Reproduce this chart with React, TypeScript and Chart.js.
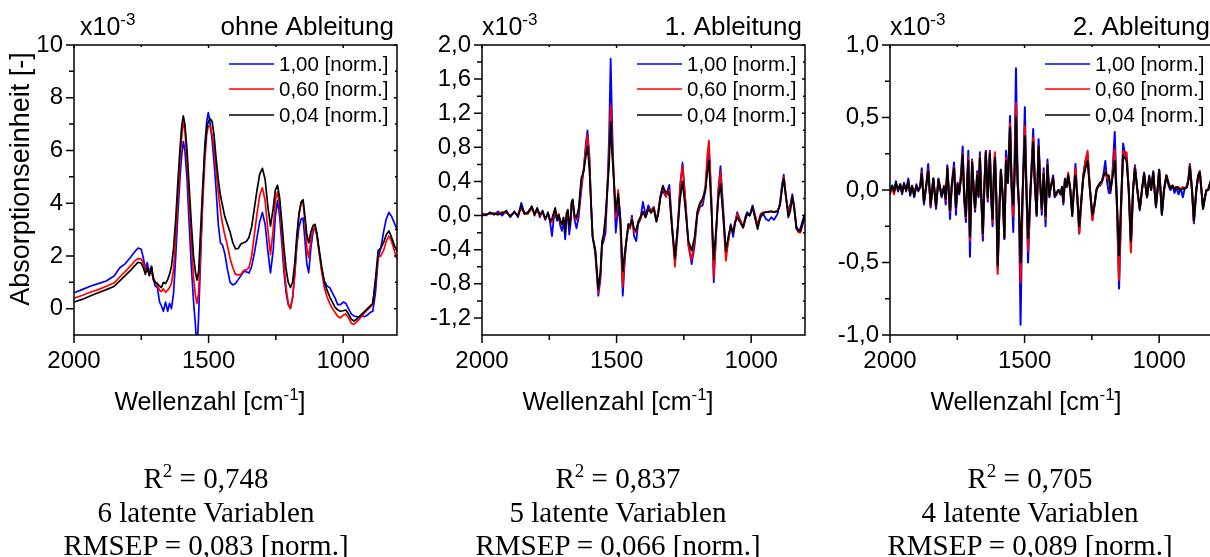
import React, { useEffect, useRef } from "react";
import { Chart, registerables } from "chart.js";

Chart.register(...registerables);

const FONT = '"Liberation Sans", Arial, sans-serif';
const SERIF = '"Liberation Serif", "Times New Roman", serif';

const seriesLabels = ["1,00 [norm.]", "0,60 [norm.]", "0,04 [norm.]"];
const seriesColors = ["#0000ff", "#ff0000", "#000000"];
const panelTitles = ["ohne Ableitung", "1. Ableitung", "2. Ableitung"];

const xTicks = [2000, 1500, 1000];
const xMinorTicks = [1750, 1250];

const yTicks1 = [0, 2, 4, 6, 8, 10];
const yTickLabels1 = ["0", "2", "4", "6", "8", "10"];
const yMinor1 = [1, 3, 5, 7, 9];
const yTicks2 = [-1.2, -0.8, -0.4, 0, 0.4, 0.8, 1.2, 1.6, 2.0];
const yTickLabels2 = ["-1,2", "-0,8", "-0,4", "0,0", "0,4", "0,8", "1,2", "1,6", "2,0"];
const yMinor2 = [-1.0, -0.6, -0.2, 0.2, 0.6, 1.0, 1.4, 1.8];
const yTicks3 = [-1, -0.5, 0, 0.5, 1];
const yTickLabels3 = ["-1,0", "-0,5", "0,0", "0,5", "1,0"];
const yMinor3 = [-0.75, -0.25, 0.25, 0.75];

const statsR2 = ["0,748", "0,837", "0,705"];
const statsLV = ["6 latente Variablen", "5 latente Variablen", "4 latente Variablen"];
const statsRMSEP = ["0,083", "0,066", "0,089"];

// ---------- Panel 1: ohne Ableitung ----------
const wn1 = [
  2000, 1970, 1940, 1910, 1880, 1850, 1830, 1810, 1790, 1775,
  1762, 1750, 1742, 1735, 1728, 1720, 1712, 1705, 1698, 1690,
  1682, 1675, 1668, 1660, 1652, 1645, 1638, 1630, 1622, 1614,
  1606, 1600, 1594, 1588, 1580, 1572, 1564, 1556, 1549, 1543,
  1537, 1530, 1522, 1514, 1507, 1501, 1494, 1487, 1480, 1472,
  1464, 1456, 1448, 1440, 1430, 1420, 1410, 1400, 1390, 1380,
  1370, 1360, 1350, 1340, 1330, 1320, 1310, 1300, 1290, 1280,
  1270, 1260, 1252, 1244, 1236, 1228, 1220, 1212, 1204, 1196,
  1188, 1180, 1172, 1164, 1156, 1149, 1142, 1135, 1128, 1120,
  1112, 1105, 1098, 1090, 1080, 1070, 1060, 1050, 1040, 1030,
  1020, 1010, 1000, 990, 980, 970, 960, 950, 940, 930,
  920, 910, 900, 890, 880, 870, 860, 850, 840, 830,
  820, 810, 800,
];
const blue1 = [
  0.60, 0.72, 0.85, 0.95, 1.05, 1.25, 1.55, 1.70, 1.95, 2.15,
  2.30, 2.25, 1.90, 1.50, 1.75, 1.30, 1.60, 1.10, 0.85, 0.80,
  0.25, 0.10, -0.10, 0.25, -0.10, 0.20, 0.00, 0.60, 2.00, 3.60,
  5.00, 5.80, 6.34, 6.00, 4.90, 3.20, 1.60, 0.30, -0.60, -1.60,
  -0.30, 1.80, 4.20, 6.20, 7.10, 7.44, 7.00, 6.40, 5.60, 4.50,
  3.20, 2.50, 2.40, 2.10, 1.50, 1.00, 0.90, 0.95, 1.10, 1.25,
  1.40, 1.40, 1.35, 1.60, 2.10, 2.70, 3.30, 3.65, 3.20, 2.20,
  1.36, 2.20, 3.50, 4.10, 3.50, 2.50, 1.40, 0.60, 0.15, 0.02,
  0.40, 1.30, 2.40, 3.10, 3.40, 3.44, 2.60, 1.70, 1.36, 2.30,
  2.90, 3.10, 2.80, 2.20, 1.50, 1.05, 0.85, 0.80, 0.60, 0.40,
  0.15, 0.15, 0.25, 0.20, 0.00, -0.20, -0.28, -0.30, -0.32, -0.28,
  -0.30, -0.25, -0.15, -0.10, 0.60, 1.90, 2.30, 2.90, 3.40, 3.65,
  3.50, 3.25, 3.00,
];
const red1 = [
  0.40, 0.50, 0.62, 0.72, 0.85, 0.98, 1.20, 1.40, 1.62, 1.80,
  1.90, 1.88, 1.70, 1.55, 1.40, 1.50, 1.35, 1.20, 1.00, 0.85,
  0.70, 0.65, 0.75, 0.62, 0.70, 0.80, 0.95, 1.50, 2.70, 4.20,
  5.60, 6.50, 7.05, 6.80, 5.50, 4.00, 2.50, 1.20, 0.50, 0.20,
  0.60, 2.20, 4.00, 5.60, 6.60, 6.92, 6.90, 6.60, 6.10, 5.20,
  4.40, 3.70, 3.20, 2.80, 2.40, 1.90, 1.55, 1.30, 1.28, 1.30,
  1.45, 1.47, 1.55, 2.00, 2.80, 3.60, 4.30, 4.58, 4.10, 3.00,
  2.05, 3.00, 4.10, 4.43, 3.90, 2.90, 1.70, 0.80, 0.20, 0.00,
  0.40, 1.30, 2.60, 3.60, 4.00, 4.05, 3.30, 2.30, 1.93, 2.60,
  3.00, 3.10, 2.80, 2.20, 1.40, 0.80, 0.45, 0.20, 0.00, -0.15,
  -0.30, -0.35, -0.25, -0.20, -0.35, -0.55, -0.60, -0.50, -0.40, -0.28,
  -0.15, -0.05, 0.05, 0.15, 1.00, 1.95, 2.00, 2.20, 2.55, 2.75,
  2.55, 2.20, 1.87,
];
const black1 = [
  0.25, 0.35, 0.48, 0.60, 0.72, 0.85, 1.05, 1.25, 1.45, 1.62,
  1.76, 1.72, 1.55, 1.30, 1.55, 1.25, 1.60, 1.10, 1.00, 0.95,
  0.85, 0.80, 1.00, 0.95, 1.10, 1.30, 1.60, 2.30, 3.40, 4.80,
  6.10, 6.90, 7.31, 7.00, 6.00, 4.60, 3.20, 2.00, 1.40, 1.08,
  1.40, 2.90, 4.60, 6.00, 6.80, 7.10, 7.20, 7.10, 6.60, 5.70,
  4.90, 4.30, 3.90, 3.50, 3.20, 2.90, 2.50, 2.27, 2.28, 2.45,
  2.50, 2.55, 2.70, 3.10, 3.80, 4.50, 5.10, 5.32, 4.90, 3.90,
  3.13, 3.80, 4.50, 4.68, 4.20, 3.30, 2.30, 1.50, 1.00, 0.80,
  1.00, 1.70, 2.80, 3.60, 4.05, 4.13, 3.50, 2.80, 2.50, 2.90,
  3.15, 3.20, 2.90, 2.30, 1.60, 1.00, 0.70, 0.45, 0.25, 0.05,
  -0.05, -0.10, -0.08, -0.05, -0.20, -0.40, -0.47, -0.40, -0.30, -0.20,
  -0.10, 0.00, 0.10, 0.20, 1.10, 2.20, 2.30, 2.50, 2.80, 2.95,
  2.70, 2.40, 2.17,
];

// ---------- Panel 2: 1. Ableitung ----------
const wn2 = [
  2000, 1985, 1970, 1955, 1940, 1925, 1910, 1895, 1880, 1866,
  1854, 1842, 1830, 1815, 1805, 1795, 1785, 1775, 1765, 1755,
  1747, 1740, 1734, 1728, 1721, 1715, 1709, 1703, 1697, 1691,
  1686, 1681, 1676, 1671, 1667, 1663, 1656, 1649, 1641, 1631,
  1622, 1614, 1608, 1601, 1595, 1589, 1579, 1568, 1560, 1554,
  1548, 1541, 1535, 1528, 1522, 1516, 1510, 1503, 1494, 1486,
  1477, 1470, 1464, 1456, 1450, 1443, 1435, 1427, 1420, 1412,
  1402, 1392, 1382, 1372, 1362, 1352, 1345, 1338, 1328, 1322,
  1316, 1310, 1304, 1294, 1283, 1272, 1264, 1255, 1245, 1233,
  1221, 1210, 1200, 1190, 1180, 1170, 1163, 1157, 1148, 1139,
  1130, 1122, 1114, 1104, 1094, 1085, 1076, 1067, 1060, 1052,
  1041, 1030, 1022, 1015, 1005, 995, 985, 976, 965, 955,
  945, 935, 925, 915, 902, 893, 886, 879, 870, 862,
  855, 847, 840, 832, 824, 817, 808, 800,
];
const blue2 = [
  0.03, 0.00, 0.04, 0.01, 0.05, 0.00, 0.06, -0.02, 0.05, -0.02,
  0.15, 0.02, 0.04, 0.10, 0.02, 0.08, -0.02, 0.06, -0.05, 0.04,
  -0.08, -0.24, -0.05, 0.05, -0.06, -0.02, -0.12, -0.18, -0.05, -0.28,
  -0.05, 0.02, -0.22, -0.10, 0.12, 0.15, -0.05, -0.15, -0.02, 0.30,
  0.55, 0.85, 1.00, 0.70, 0.15, -0.25, -0.45, -0.94, -0.75, -0.35,
  -0.30, -0.20, 0.25, 0.90, 1.84, 1.00, 0.40, -0.20, 0.11, -0.10,
  -0.94, -0.55, -0.30, -0.10, -0.15, 0.00, -0.24, -0.30, -0.10, -0.05,
  0.16, 0.00, 0.12, 0.05, 0.10, -0.07, 0.05, 0.20, 0.30, 0.25,
  0.22, 0.30, 0.36, -0.10, -0.52, -0.10, 0.35, 0.62, 0.20, -0.35,
  -0.57, -0.35, 0.00, 0.10, 0.12, 0.30, 0.60, 0.81, 0.20, -0.78,
  -0.20, 0.30, 0.58, 0.10, -0.45, -0.30, -0.10, -0.25, -0.10, 0.04,
  -0.05, -0.14, -0.02, 0.04, 0.00, 0.12, 0.00, -0.12, -0.02, 0.02,
  -0.04, -0.06, -0.02, -0.05, 0.02, 0.15, 0.35, 0.48, 0.20, 0.05,
  0.12, 0.25, 0.10, -0.12, -0.18, -0.15, -0.05, 0.02,
];
const red2 = [
  0.01, 0.02, 0.02, 0.03, 0.02, 0.04, 0.03, 0.00, 0.03, 0.01,
  0.08, 0.03, 0.02, 0.08, 0.03, 0.05, 0.00, 0.03, -0.03, 0.02,
  -0.05, -0.08, 0.00, 0.06, -0.04, 0.02, -0.08, -0.10, -0.05, -0.18,
  0.00, 0.03, -0.12, -0.05, 0.15, 0.17, -0.02, -0.05, 0.05, 0.35,
  0.55, 0.80, 0.94, 0.65, 0.15, -0.25, -0.42, -0.90, -0.70, -0.32,
  -0.25, -0.05, 0.27, 0.70, 1.29, 0.80, 0.42, -0.03, 0.30, -0.05,
  -0.83, -0.50, -0.32, -0.12, -0.15, -0.03, -0.18, -0.20, -0.08, -0.05,
  0.05, -0.02, 0.08, 0.06, 0.10, -0.05, 0.05, 0.22, 0.35, 0.28,
  0.22, 0.28, 0.30, -0.15, -0.60, -0.15, 0.35, 0.58, 0.20, -0.35,
  -0.52, -0.30, 0.02, 0.12, 0.18, 0.35, 0.70, 0.88, 0.20, -0.72,
  -0.20, 0.30, 0.52, 0.00, -0.53, -0.30, -0.12, -0.20, -0.08, 0.02,
  -0.05, -0.14, -0.04, 0.02, 0.00, 0.10, -0.02, -0.10, 0.02, 0.04,
  0.04, 0.05, 0.05, 0.04, 0.06, 0.12, 0.30, 0.45, 0.20, 0.05,
  0.10, 0.22, 0.10, -0.15, -0.20, -0.20, -0.10, 0.00,
];
const black2 = [
  0.00, 0.01, 0.03, 0.02, 0.01, 0.03, 0.05, -0.01, 0.04, 0.00,
  0.12, 0.02, 0.03, 0.11, 0.00, 0.09, 0.01, 0.05, -0.04, 0.03,
  -0.06, -0.04, 0.03, 0.09, -0.05, 0.01, -0.06, -0.10, -0.02, -0.20,
  0.03, 0.07, -0.12, -0.03, 0.16, 0.19, 0.00, -0.02, 0.08, 0.44,
  0.52, 0.70, 0.81, 0.55, 0.15, -0.25, -0.40, -0.86, -0.65, -0.30,
  -0.22, 0.00, 0.27, 0.60, 1.10, 0.70, 0.42, 0.05, 0.25, -0.02,
  -0.65, -0.45, -0.30, -0.10, -0.12, -0.05, -0.15, -0.18, -0.07, -0.02,
  0.04, -0.02, 0.08, 0.03, 0.08, -0.07, 0.02, 0.20, 0.35, 0.30,
  0.27, 0.28, 0.24, -0.15, -0.50, -0.10, 0.20, 0.40, 0.10, -0.30,
  -0.41, -0.25, 0.05, 0.15, 0.20, 0.30, 0.50, 0.64, 0.10, -0.51,
  -0.15, 0.20, 0.37, 0.00, -0.41, -0.25, -0.12, -0.20, -0.08, -0.02,
  -0.08, -0.14, -0.05, 0.02, 0.00, 0.10, -0.04, -0.16, 0.00, 0.03,
  0.04, 0.04, 0.05, 0.04, 0.05, 0.12, 0.30, 0.43, 0.20, -0.02,
  0.05, 0.22, 0.08, -0.15, -0.18, -0.18, -0.08, 0.00,
];

// ---------- Panel 3: 2. Ableitung ----------
const wn3 = [
  2000, 1992, 1985, 1978, 1970, 1962, 1955, 1948, 1940, 1932,
  1925, 1918, 1910, 1902, 1895, 1888, 1882, 1874, 1866, 1858,
  1849, 1839, 1829, 1820, 1808, 1799, 1793, 1787, 1777, 1770,
  1762, 1755, 1749, 1743, 1736, 1730, 1724, 1718, 1713, 1709,
  1703, 1695, 1689, 1684, 1676, 1671, 1666, 1660, 1655, 1650,
  1644, 1637, 1629, 1624, 1619, 1614, 1610, 1605, 1600, 1593,
  1588, 1581, 1575, 1569, 1562, 1554, 1548, 1542, 1537, 1532,
  1526, 1521, 1515, 1508, 1499, 1493, 1487, 1478, 1468, 1462,
  1455, 1448, 1442, 1436, 1429, 1422, 1415, 1408, 1403, 1394,
  1388, 1381, 1374, 1366, 1361, 1356, 1350, 1344, 1338, 1330,
  1323, 1317, 1311, 1304, 1297, 1290, 1282, 1274, 1266, 1257,
  1248, 1240, 1233, 1226, 1220, 1213, 1206, 1200, 1193, 1187,
  1181, 1174, 1165, 1157, 1149, 1141, 1134, 1127, 1121, 1113,
  1105, 1097, 1090, 1081, 1072, 1064, 1056, 1050, 1045, 1037,
  1030, 1022, 1017, 1012, 1006, 1000, 995, 990, 982, 973,
  965, 958, 950, 943, 936, 928, 920, 912, 905, 897,
  891, 886, 878, 871, 862, 855, 849, 843, 837, 830,
  824, 818, 812, 806, 800,
];
const blue3 = [
  -0.03, 0.03, -0.02, 0.06, -0.01, 0.04, -0.03, 0.05, -0.01, 0.08,
  -0.04, 0.03, -0.05, 0.04, -0.01, 0.02, 0.15, -0.10, 0.02, 0.18,
  -0.12, 0.08, -0.13, 0.08, -0.05, 0.03, -0.10, 0.17, -0.20, 0.05,
  0.19, -0.17, 0.05, -0.03, 0.12, 0.30, -0.08, -0.22, 0.08, 0.27,
  -0.46, 0.21, 0.00, -0.15, 0.13, -0.05, 0.26, -0.10, -0.35, 0.00,
  0.27, -0.08, 0.27, -0.05, -0.25, 0.10, 0.25, -0.05, -0.55, -0.10,
  0.14, -0.05, -0.34, 0.27, 0.05, 0.51, 0.00, -0.29, 0.20, 0.84,
  0.10, -0.10, -0.93, -0.10, 0.57, 0.00, -0.50, 0.00, 0.42, 0.05,
  -0.18, 0.35, 0.05, -0.17, 0.15, -0.25, 0.21, -0.05, 0.02, 0.10,
  -0.05, -0.03, 0.00, -0.03, 0.02, -0.10, 0.08, 0.02, 0.10, 0.00,
  -0.17, 0.00, 0.18, -0.05, -0.30, -0.10, 0.10, 0.20, 0.25, 0.00,
  -0.20, -0.10, 0.00, 0.03, 0.03, 0.05, 0.12, 0.20, 0.05, -0.02,
  -0.02, 0.10, 0.40, -0.10, -0.68, -0.10, 0.32, 0.25, 0.23, 0.00,
  -0.38, 0.00, 0.17, 0.00, -0.14, 0.00, 0.12, 0.02, -0.05, 0.10,
  0.00, 0.13, 0.00, -0.12, 0.00, 0.14, 0.00, -0.17, 0.00, 0.10,
  0.03, 0.00, 0.03, -0.02, 0.02, -0.03, 0.01, -0.05, 0.01, 0.02,
  0.08, 0.18, 0.00, -0.23, 0.00, 0.10, 0.13, 0.00, -0.13, -0.05,
  0.00, 0.00, 0.04, 0.08, 0.05,
];
const red3 = [
  -0.02, 0.02, -0.03, 0.04, 0.00, 0.03, -0.02, 0.03, 0.00, 0.05,
  -0.03, 0.02, -0.03, 0.03, 0.00, 0.02, 0.12, -0.08, 0.02, 0.14,
  -0.11, 0.07, -0.11, 0.07, -0.04, 0.03, -0.07, 0.15, -0.15, 0.04,
  0.16, -0.13, 0.04, -0.02, 0.10, 0.25, -0.06, -0.19, 0.06, 0.22,
  -0.35, 0.20, 0.00, -0.13, 0.11, -0.04, 0.23, -0.08, -0.31, 0.00,
  0.26, -0.06, 0.26, -0.04, -0.22, 0.12, 0.26, -0.05, -0.58, -0.10,
  0.13, -0.05, -0.33, 0.22, 0.05, 0.46, 0.02, -0.18, 0.15, 0.60,
  0.05, -0.10, -0.64, -0.08, 0.44, 0.00, -0.42, 0.00, 0.36, 0.05,
  -0.17, 0.30, 0.05, -0.14, 0.12, -0.20, 0.18, -0.04, 0.02, 0.08,
  -0.04, -0.02, 0.00, -0.03, 0.02, -0.08, 0.07, 0.03, 0.12, 0.00,
  -0.15, 0.00, 0.15, -0.05, -0.30, -0.10, 0.10, 0.20, 0.27, 0.00,
  -0.21, -0.10, 0.00, 0.03, 0.04, 0.05, 0.10, 0.13, 0.08, 0.08,
  0.00, 0.10, 0.28, -0.10, -0.62, -0.10, 0.27, 0.25, 0.26, 0.00,
  -0.43, 0.00, 0.16, 0.00, -0.13, 0.00, 0.11, 0.02, -0.05, 0.09,
  0.00, 0.12, 0.00, -0.11, 0.00, 0.13, 0.00, -0.16, 0.00, 0.10,
  0.05, 0.02, 0.03, 0.01, 0.02, 0.02, 0.00, 0.02, 0.01, 0.03,
  0.07, 0.17, 0.00, -0.22, 0.00, 0.10, 0.13, 0.00, -0.12, -0.05,
  0.00, 0.00, 0.04, 0.07, 0.05,
];
const black3 = [
  -0.01, 0.03, -0.01, 0.05, 0.00, 0.04, -0.02, 0.04, 0.00, 0.06,
  -0.03, 0.03, -0.04, 0.03, 0.00, 0.02, 0.11, -0.08, 0.02, 0.13,
  -0.10, 0.08, -0.11, 0.07, -0.04, 0.02, -0.06, 0.15, -0.14, 0.04,
  0.15, -0.12, 0.04, -0.02, 0.08, 0.24, -0.05, -0.18, 0.06, 0.20,
  -0.32, 0.19, 0.00, -0.12, 0.10, -0.04, 0.22, -0.08, -0.30, 0.00,
  0.26, -0.05, 0.25, -0.04, -0.20, 0.10, 0.22, -0.05, -0.52, -0.10,
  0.14, -0.05, -0.33, 0.20, 0.05, 0.43, 0.03, -0.10, 0.12, 0.50,
  0.05, -0.10, -0.50, -0.05, 0.37, 0.00, -0.33, 0.00, 0.33, 0.05,
  -0.17, 0.30, 0.05, -0.13, 0.11, -0.18, 0.17, -0.04, 0.02, 0.08,
  -0.04, -0.02, 0.00, -0.03, 0.02, -0.08, 0.07, 0.02, 0.10, 0.00,
  -0.18, 0.00, 0.10, -0.05, -0.25, -0.08, 0.08, 0.15, 0.20, 0.00,
  -0.17, -0.10, 0.00, 0.03, 0.05, 0.06, 0.10, 0.12, 0.10, 0.10,
  0.00, 0.08, 0.20, -0.08, -0.45, -0.05, 0.24, 0.22, 0.20, 0.00,
  -0.35, 0.00, 0.15, 0.00, -0.13, 0.00, 0.11, 0.02, -0.05, 0.09,
  0.00, 0.12, 0.00, -0.11, 0.00, 0.14, 0.00, -0.17, 0.00, 0.10,
  0.04, 0.01, 0.03, 0.00, 0.02, 0.01, 0.00, 0.01, 0.01, 0.02,
  0.07, 0.16, 0.00, -0.21, 0.00, 0.10, 0.12, 0.00, -0.13, -0.05,
  0.00, 0.00, 0.04, 0.07, 0.05,
];

type PanelCfg = {
  wn: number[];
  series: number[][];
  yMin: number;
  yMax: number;
  yTicks: number[];
  yLabels: string[];
  yMinor: number[];
  title: string;
  canvasLeft: number;
  expOffset: number;
  lineWidth: number;
  yTitle: boolean;
};

const PANELS: PanelCfg[] = [
  { wn: wn1, series: [blue1, red1, black1], yMin: -1, yMax: 10, yTicks: yTicks1, yLabels: yTickLabels1, yMinor: yMinor1, title: panelTitles[0], canvasLeft: 0, expOffset: 6, lineWidth: 1.7, yTitle: true },
  { wn: wn2, series: [blue2, red2, black2], yMin: -1.4, yMax: 2.0, yTicks: yTicks2, yLabels: yTickLabels2, yMinor: yMinor2, title: panelTitles[1], canvasLeft: 408, expOffset: 0, lineWidth: 1.8, yTitle: false },
  { wn: wn3, series: [blue3, red3, black3], yMin: -1, yMax: 1, yTicks: yTicks3, yLabels: yTickLabels3, yMinor: yMinor3, title: panelTitles[2], canvasLeft: 816, expOffset: 0, lineWidth: 2.0, yTitle: false },
];

const CANVAS_W = 410;
const CANVAS_H = 557;

type Part = [string, number, number];

function drawRich(ctx: CanvasRenderingContext2D, parts: Part[], x: number, y: number, align: "left" | "center" | "right") {
  let total = 0;
  for (const [t, s] of parts) {
    ctx.font = `${s}px ${FONT}`;
    total += ctx.measureText(t).width;
  }
  let cx = align === "center" ? x - total / 2 : align === "right" ? x - total : x;
  ctx.textAlign = "left";
  ctx.textBaseline = "alphabetic";
  for (const [t, s, dy] of parts) {
    ctx.font = `${s}px ${FONT}`;
    ctx.fillText(t, cx, y + dy);
    cx += ctx.measureText(t).width;
  }
}

function makeFramePlugin(cfg: PanelCfg) {
  return {
    id: "frameDecor",
    afterDraw(chart: any) {
      const ctx: CanvasRenderingContext2D = chart.ctx;
      const a = chart.chartArea;
      const xs = chart.scales.x;
      const ys = chart.scales.y;
      ctx.save();
      ctx.strokeStyle = "#000";
      ctx.lineWidth = 1.5;
      ctx.strokeRect(a.left, a.top, a.right - a.left, a.bottom - a.top);

      ctx.beginPath();
      for (const v of xTicks) {
        const p = xs.getPixelForValue(v);
        ctx.moveTo(p, a.bottom);
        ctx.lineTo(p, a.bottom + 8);
        ctx.moveTo(p, a.top);
        ctx.lineTo(p, a.top + 3);
      }
      for (const v of xMinorTicks) {
        const p = xs.getPixelForValue(v);
        ctx.moveTo(p, a.bottom);
        ctx.lineTo(p, a.bottom + 5);
        ctx.moveTo(p, a.top);
        ctx.lineTo(p, a.top + 2);
      }
      for (const v of cfg.yTicks) {
        const p = ys.getPixelForValue(v);
        ctx.moveTo(a.left - 8, p);
        ctx.lineTo(a.left, p);
        ctx.moveTo(a.right - 3, p);
        ctx.lineTo(a.right, p);
      }
      for (const v of cfg.yMinor) {
        const p = ys.getPixelForValue(v);
        ctx.moveTo(a.left - 5, p);
        ctx.lineTo(a.left, p);
        ctx.moveTo(a.right - 2, p);
        ctx.lineTo(a.right, p);
      }
      ctx.stroke();

      ctx.fillStyle = "#000";
      drawRich(ctx, [["x10", 25, 0], ["-3", 17, -10]], a.left + cfg.expOffset, 35, "left");
      drawRich(ctx, [[cfg.title, 26, 0]], a.right - 3, 35, "right");
      drawRich(ctx, [["Wellenzahl [cm", 25, 0], ["-1", 17, -10], ["]", 25, 0]], a.left + 136, 410, "center");

      const rows = [19, 44, 70];
      for (let i = 0; i < 3; i++) {
        const y = a.top + rows[i];
        ctx.strokeStyle = seriesColors[i];
        ctx.lineWidth = 1.6;
        ctx.beginPath();
        ctx.moveTo(a.right - 168, y);
        ctx.lineTo(a.right - 123, y);
        ctx.stroke();
        ctx.fillStyle = "#000";
        ctx.font = `20.5px ${FONT}`;
        ctx.textAlign = "left";
        ctx.textBaseline = "middle";
        ctx.fillText(seriesLabels[i], a.right - 118, y + 1);
      }

      if (cfg.yTitle) {
        ctx.save();
        ctx.translate(a.left - 52, 179);
        ctx.rotate(-Math.PI / 2);
        ctx.fillStyle = "#000";
        ctx.font = `27px ${FONT}`;
        ctx.textAlign = "center";
        ctx.textBaseline = "middle";
        ctx.fillText("Absorptionseinheit [-]", 0, 0);
        ctx.restore();
      }
      ctx.restore();
    },
  };
}

function buildConfig(cfg: PanelCfg): any {
  const datasets = cfg.series.map((vals, i) => ({
    label: seriesLabels[i],
    data: cfg.wn.map((x, j) => ({ x, y: vals[j] })),
    borderColor: seriesColors[i],
    backgroundColor: seriesColors[i],
    borderWidth: cfg.lineWidth,
    pointRadius: 0,
    pointHoverRadius: 0,
    tension: 0,
    fill: false,
    borderJoinStyle: "round",
    order: 2 - i,
  }));
  return {
    type: "line",
    data: { datasets },
    options: {
      responsive: false,
      maintainAspectRatio: false,
      animation: false,
      devicePixelRatio: 1,
      events: [],
      layout: { padding: { left: 0, right: 13, top: 45, bottom: 0 } },
      plugins: {
        legend: { display: false },
        tooltip: { enabled: false },
        title: { display: false },
      },
      scales: {
        x: {
          type: "linear",
          min: 800,
          max: 2000,
          reverse: true,
          afterBuildTicks: (s: any) => {
            s.ticks = xTicks.map((v) => ({ value: v }));
          },
          afterFit: (s: any) => {
            s.height = 557 - 335;
          },
          ticks: {
            font: { family: FONT, size: 24 },
            color: "#000",
            padding: 12,
            maxRotation: 0,
            minRotation: 0,
            autoSkip: false,
            callback: (v: any) => String(v),
          },
          grid: { display: false, drawTicks: false, tickLength: 0 },
          border: { display: false },
        },
        y: {
          type: "linear",
          min: cfg.yMin,
          max: cfg.yMax,
          afterBuildTicks: (s: any) => {
            s.ticks = cfg.yTicks.map((v) => ({ value: v }));
          },
          afterFit: (s: any) => {
            s.width = 74;
          },
          ticks: {
            font: { family: FONT, size: 24 },
            color: "#000",
            padding: 11,
            autoSkip: false,
            callback: (_v: any, i: number) => cfg.yLabels[i],
          },
          grid: { display: false, drawTicks: false, tickLength: 0 },
          border: { display: false },
        },
      },
    },
    plugins: [makeFramePlugin(cfg)],
  };
}

function Panel({ cfg }: { cfg: PanelCfg }) {
  const ref = useRef<HTMLCanvasElement>(null);
  useEffect(() => {
    if (!ref.current) return;
    const chart = new Chart(ref.current, buildConfig(cfg));
    return () => chart.destroy();
  }, [cfg]);
  return (
    <canvas
      ref={ref}
      width={CANVAS_W}
      height={CANVAS_H}
      style={{ position: "absolute", left: cfg.canvasLeft, top: 0, width: CANVAS_W, height: CANVAS_H }}
    />
  );
}

const statCenters = [206, 618, 1030];
const statBaselines = [488, 522, 555];

export default function App() {
  useEffect(() => {
    document.body.style.margin = "0";
  }, []);
  const lineStyle = (cx: number, baseline: number): React.CSSProperties => ({
    position: "absolute",
    left: cx - 250,
    width: 500,
    top: baseline - 24,
    textAlign: "center",
    font: `29px ${SERIF}`,
    lineHeight: "28px",
    whiteSpace: "nowrap",
    color: "#000",
  });
  return (
    <div style={{ position: "relative", width: 1210, height: 557, overflow: "hidden", background: "#fff" }}>
      <style>{"body{margin:0}"}</style>
      {PANELS.map((p, i) => (
        <Panel key={i} cfg={p} />
      ))}
      {statCenters.map((cx, i) => (
        <React.Fragment key={"s" + i}>
          <div style={lineStyle(cx, statBaselines[0])}>
            R<span style={{ fontSize: 19, position: "relative", top: -11 }}>2</span> = {statsR2[i]}
          </div>
          <div style={lineStyle(cx, statBaselines[1])}>{statsLV[i]}</div>
          <div style={lineStyle(cx, statBaselines[2])}>RMSEP = {statsRMSEP[i]} [norm.]</div>
        </React.Fragment>
      ))}
    </div>
  );
}
